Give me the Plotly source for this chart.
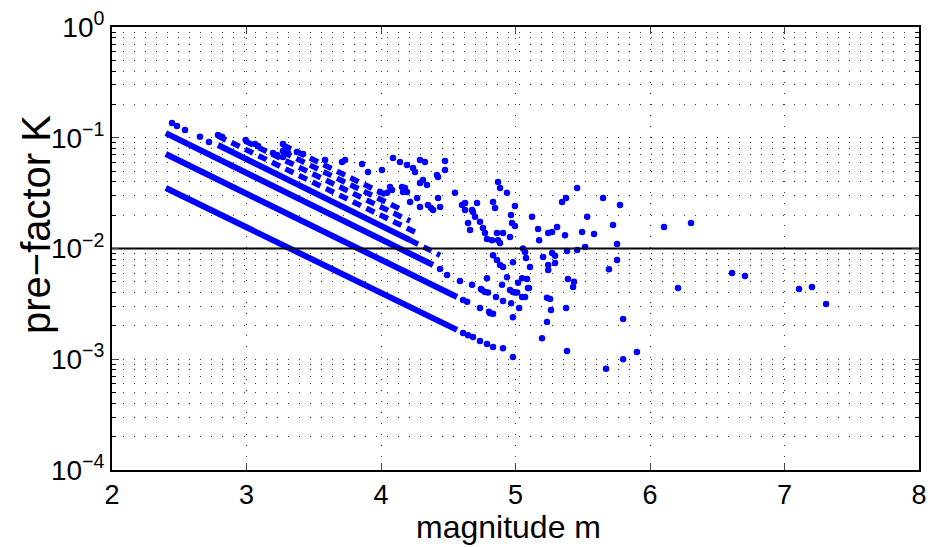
import plotly.graph_objects as go

# ---- dense runs of points (drawn as thick strokes), magnitude m and pre-factor K at both ends
solid_m0 = [2.40, 2.40, 2.40, 2.788]
solid_k0 = [0.0352, 0.0713, 0.110, 0.086]
solid_m1 = [4.565, 4.565, 4.387, 4.216]
solid_k1 = [0.00184, 0.00365, 0.0071, 0.0119]

# ---- broken (dashed-looking) runs of points
dash_m0 = [4.216, 2.788, 2.989, 3.271, 3.271]
dash_k0 = [0.0119, 0.1037, 0.0934, 0.0743, 0.086]
dash_m1 = [4.439, 4.29, 4.216, 4.141, 4.067]
dash_k1 = [0.0087, 0.0134, 0.0177, 0.0228, 0.0292]

# ---- individual points
pts_m = [2.446, 2.483, 2.543, 2.654, 2.721, 2.788, 2.818, 2.994, 3.063, 3.086,
         3.197, 3.227, 3.271, 3.271, 3.271, 3.309, 3.375, 3.42, 3.584, 3.71,
         3.733, 3.859, 3.903, 4.007, 4.089, 4.141, 4.193, 4.238, 4.253, 4.29,
         4.327, 4.476, 4.476, 4.312, 4.29, 4.416, 4.424, 4.342, 4.156, 4.178,
         4.193, 4.164, 4.067, 4.082, 4.045, 3.993, 4.216, 4.268, 4.29, 4.349,
         4.372, 4.387, 4.424, 4.439, 4.55, 4.602, 4.625, 4.625, 4.677, 4.684,
         4.714, 4.647, 4.662, 4.699, 4.736, 4.833, 4.848, 4.87, 4.885, 4.937,
         4.996, 4.966, 4.974, 4.996, 5.123, 5.168, 5.176, 5.243, 5.272, 5.309,
         5.346, 5.376, 5.458, 5.368, 5.495, 5.533, 5.584, 5.651, 5.725, 5.777,
         5.755, 5.383, 5.458, 5.518, 5.205, 5.272, 5.294, 5.294, 5.243, 5.39,
         5.435, 5.428, 5.755, 5.695, 5.376, 5.234, 5.257, 5.264, 5.234, 5.197,
         5.383, 5.8, 5.903, 5.8, 5.673, 4.981, 4.981, 4.907, 5.056, 5.071,
         5.078, 5.108, 5.086, 5.049, 5.027, 4.967, 5.071, 5.1, 5.019, 4.981,
         4.996, 4.937, 4.9, 4.855, 4.736, 4.803, 4.833, 4.907, 4.743, 4.773,
         4.795, 4.862, 4.833, 4.885, 4.907, 4.981, 4.758, 4.773, 4.788, 4.825,
         4.862, 4.87, 4.885, 4.907, 4.959, 4.788, 4.751, 4.959, 5.012, 5.049,
         5.093, 4.61, 4.64, 4.811, 6.104, 6.305, 6.208, 6.61, 6.706, 7.108,
         7.204, 7.309, 4.61, 4.647, 4.684, 4.736, 4.788, 4.833, 4.439, 4.491,
         4.587, 4.677, 5.243]
pts_k = [0.136, 0.128, 0.1175, 0.102, 0.0915, 0.106, 0.102, 0.0954, 0.0878, 0.0842,
         0.0728, 0.0698, 0.0878, 0.0759, 0.0670, 0.0728, 0.0743, 0.0713, 0.063, 0.0604,
         0.063, 0.058, 0.0491, 0.0512, 0.0657, 0.0604, 0.0568, 0.0533, 0.0491, 0.063,
         0.0604, 0.0617, 0.0512, 0.0416, 0.0391, 0.0461, 0.0443, 0.0375, 0.036, 0.0352,
         0.0324, 0.0324, 0.036, 0.0338, 0.0318, 0.0324, 0.0263, 0.0286, 0.0237, 0.0247,
         0.0232, 0.0223, 0.0286, 0.0237, 0.0318, 0.0247, 0.0257, 0.0223, 0.0223, 0.0214,
         0.0257, 0.017, 0.0147, 0.0193, 0.0174, 0.0263, 0.0232, 0.0399, 0.0352, 0.0318,
         0.0242, 0.0201, 0.017, 0.016, 0.0193, 0.015, 0.0119, 0.0138, 0.0141, 0.0156,
         0.0263, 0.0286, 0.0352, 0.0132, 0.0141, 0.0193, 0.0135, 0.0286, 0.0163, 0.0247,
         0.011, 0.0095, 0.0097, 0.0103, 0.0084, 0.0091, 0.0086, 0.0074, 0.0064, 0.0053,
         0.005, 0.0045, 0.00787, 0.0065, 0.0029, 0.0036, 0.0035, 0.00279, 0.00217, 0.00155,
         0.00119, 0.00231, 0.00116, 0.001, 0.00082, 0.0024, 0.00105, 0.00126, 0.01, 0.0093,
         0.0082, 0.0068, 0.0053, 0.0054, 0.0029, 0.0032, 0.00365, 0.0044, 0.0049, 0.00405,
         0.0040, 0.0055, 0.0047, 0.00365, 0.0029, 0.00268, 0.00257, 0.00336, 0.0043, 0.00405,
         0.0040, 0.00787, 0.0087, 0.0071, 0.0068, 0.0075, 0.0153, 0.0138, 0.0122, 0.0119,
         0.0138, 0.0119, 0.0112, 0.0138, 0.0127, 0.0054, 0.00422, 0.00422, 0.0040, 0.00365,
         0.0044, 0.00343, 0.0033, 0.0026, 0.0156, 0.017, 0.0044, 0.006, 0.00565, 0.0043,
         0.0045, 0.00316, 0.00173, 0.00165, 0.00159, 0.00146, 0.00137, 0.00129, 0.00653, 0.00577,
         0.0051, 0.0047, 0.0071]

ref_level = 0.01
x_ticks = [2, 3, 4, 5, 6, 7, 8]
y_ticks = [1e-4, 1e-3, 1e-2, 1e-1, 1e0]
y_ticktext = ["10<sup>\u22124</sup>", "10<sup>\u22123</sup>", "10<sup>\u22122</sup>",
              "10<sup>\u22121</sup>", "10<sup>0</sup>"]
x_title = "magnitude m"
y_title = "pre\u2212factor K"

BLUE = "#0000FF"
FONT = "Liberation Sans, Arial, sans-serif"
fig = go.Figure()

for a, b, c, d in zip(solid_m0, solid_k0, solid_m1, solid_k1):
    fig.add_trace(go.Scatter(x=[a, c], y=[b, d], mode="lines",
                             line=dict(color=BLUE, width=6), showlegend=False, hoverinfo="skip"))
for a, b, c, d in zip(dash_m0, dash_k0, dash_m1, dash_k1):
    fig.add_trace(go.Scatter(x=[a, c], y=[b, d], mode="lines",
                             line=dict(color=BLUE, width=5.5, dash="9px,6px"),
                             showlegend=False, hoverinfo="skip"))
fig.add_trace(go.Scatter(x=pts_m, y=pts_k, mode="markers",
                         marker=dict(color=BLUE, size=6.5, line=dict(width=0)),
                         showlegend=False))
fig.add_trace(go.Scatter(x=[2, 8], y=[ref_level, ref_level], mode="lines",
                         line=dict(color="black", width=2), showlegend=False, hoverinfo="skip"))

minor_vals = [j * 10.0 ** k for k in range(-4, 0) for j in range(2, 10)]
grid_common = dict(gridcolor="#333", gridwidth=1, griddash="1px,10px")

fig.update_layout(
    width=928, height=547,
    margin=dict(l=112, r=9, t=27, b=77),
    paper_bgcolor="white", plot_bgcolor="white",
    font=dict(family=FONT, color="black"),
    xaxis=dict(
        range=[2, 8], tickvals=x_ticks, ticks="inside", ticklen=7, tickwidth=1,
        showline=True, linecolor="black", linewidth=2, mirror="ticks",
        showgrid=True, zeroline=False, tickfont=dict(size=27), automargin=False,
        **grid_common,
    ),
    yaxis=dict(
        type="log", range=[-4, 0], tickvals=y_ticks, ticktext=y_ticktext,
        ticks="inside", ticklen=7, tickwidth=1,
        showline=True, linecolor="black", linewidth=2, mirror="ticks",
        showgrid=True, zeroline=False, tickfont=dict(size=28), automargin=False,
        minor=dict(tickvals=minor_vals, ticks="inside", ticklen=4, showgrid=True,
                   tickcolor="black", **grid_common),
        **grid_common,
    ),
    annotations=[
        dict(text=y_title, textangle=-90, xref="paper", yref="paper",
             x=0, y=0.553, xanchor="center", yanchor="middle", xshift=-76,
             showarrow=False, font=dict(size=40, family=FONT)),
        dict(text=x_title, xref="paper", yref="paper",
             x=0.491, y=0, xanchor="center", yanchor="top", yshift=-37,
             showarrow=False, font=dict(size=32, family=FONT)),
    ],
)

fig.write_html("out.html")
